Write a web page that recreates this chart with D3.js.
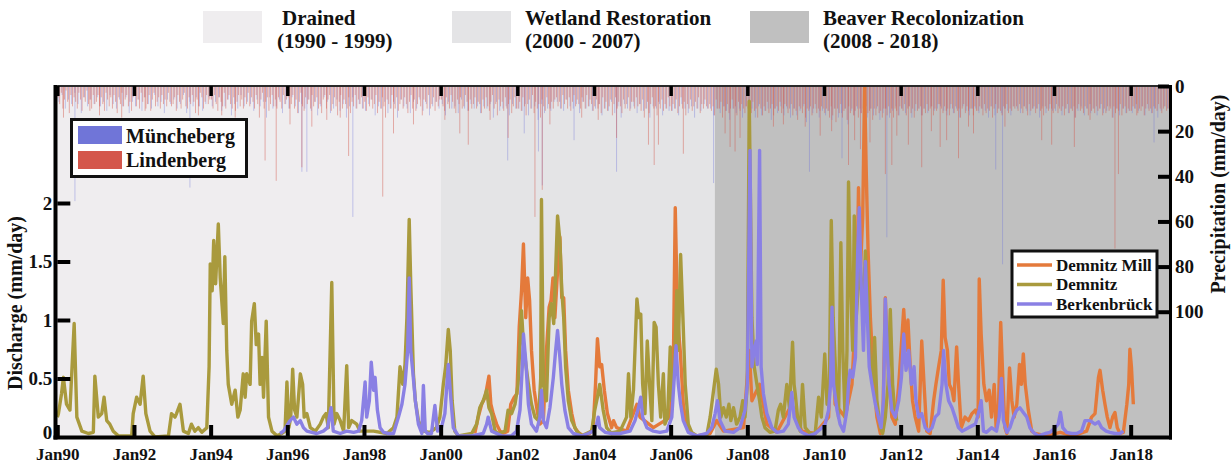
<!DOCTYPE html>
<html>
<head>
<meta charset="utf-8">
<script src="https://cdn.jsdelivr.net/npm/d3@7/dist/d3.min.js"></script>
<style>
  body { margin: 0; background: #fff; }
  svg text { font-family: "Liberation Serif", "Times New Roman", serif; font-weight: bold; fill: #111; }
</style>
</head>
<body>
<div id="chart-area"></div>
<script>

// Phases of the catchment
var phaseNames = ["Drained", "Wetland Restoration", "Beaver Recolonization"];
var phaseYears = ["(1990 - 1999)", "(2000 - 2007)", "(2008 - 2018)"];
var phaseStart = [1990, 2000, 2007.15];
var phaseEnd = [2000, 2007.15, 2019];

// Tick values
var xTickYears = [1990, 1992, 1994, 1996, 1998, 2000, 2002, 2004, 2006, 2008, 2010, 2012, 2014, 2016, 2018];
var dischargeTicks = [0, 0.5, 1, 1.5, 2];
var precipTicks = [0, 20, 40, 60, 80, 100];

// Discharge (mm/day), [decimal year, value]
var demnitz = [[1990.00,0.17],[1990.03,0.20],[1990.11,0.37],[1990.16,0.51],[1990.24,0.28],[1990.33,0.23],[1990.44,0.97],[1990.51,0.17],[1990.64,0.05],[1990.81,0.03],[1990.94,0.04],[1990.98,0.52],[1991.07,0.17],[1991.16,0.20],[1991.22,0.34],[1991.29,0.14],[1991.37,0.11],[1991.46,0.05],[1991.59,0.01],[1991.94,0.01],[1991.98,0.20],[1992.07,0.34],[1992.16,0.28],[1992.24,0.52],[1992.31,0.20],[1992.42,0.05],[1992.55,0.00],[1992.90,0.01],[1992.98,0.20],[1993.07,0.17],[1993.11,0.20],[1993.20,0.28],[1993.29,0.05],[1993.42,0.03],[1993.50,0.11],[1993.59,0.05],[1993.68,0.08],[1993.77,0.04],[1993.90,0.08],[1993.96,0.60],[1993.99,1.48],[1994.04,1.25],[1994.08,1.68],[1994.13,1.31],[1994.20,1.82],[1994.25,1.36],[1994.33,0.97],[1994.37,1.54],[1994.42,0.74],[1994.46,0.45],[1994.55,0.28],[1994.64,0.40],[1994.71,0.17],[1994.77,0.23],[1994.85,0.54],[1994.90,0.34],[1994.94,0.54],[1995.03,0.45],[1995.07,0.99],[1995.14,1.14],[1995.19,0.79],[1995.25,0.88],[1995.29,0.45],[1995.34,0.68],[1995.38,0.34],[1995.45,0.99],[1995.51,0.17],[1995.60,0.05],[1995.73,0.01],[1995.86,0.03],[1995.94,0.05],[1995.99,0.47],[1996.04,0.08],[1996.09,0.17],[1996.14,0.58],[1996.19,0.23],[1996.25,0.17],[1996.34,0.54],[1996.40,0.45],[1996.44,0.17],[1996.51,0.20],[1996.60,0.08],[1996.73,0.05],[1996.86,0.11],[1996.94,0.17],[1997.01,0.20],[1997.07,0.08],[1997.16,1.32],[1997.22,0.11],[1997.29,0.20],[1997.38,0.14],[1997.47,0.05],[1997.55,0.61],[1997.60,0.08],[1997.68,0.14],[1997.81,0.11],[1997.90,0.05],[1998.25,0.05],[1998.60,0.03],[1998.77,0.08],[1998.86,0.17],[1998.94,0.60],[1999.01,0.45],[1999.07,0.62],[1999.12,1.02],[1999.18,1.86],[1999.22,1.31],[1999.29,0.54],[1999.34,0.31],[1999.42,0.14],[1999.55,0.05],[1999.72,0.04],[1999.89,0.08],[1999.98,0.17],[2000.07,0.45],[2000.13,0.60],[2000.20,0.92],[2000.25,0.74],[2000.30,0.31],[2000.37,0.05],[2000.46,0.01],[2000.81,0.03],[2000.94,0.11],[2001.02,0.25],[2001.11,0.31],[2001.20,0.40],[2001.26,0.25],[2001.33,0.20],[2001.42,0.05],[2001.50,0.03],[2001.68,0.05],[2001.76,0.23],[2001.85,0.20],[2001.94,0.28],[2002.02,0.45],[2002.11,1.08],[2002.16,0.79],[2002.20,0.68],[2002.29,0.45],[2002.37,0.28],[2002.46,0.17],[2002.55,0.14],[2002.61,0.50],[2002.63,2.03],[2002.68,0.45],[2002.76,0.31],[2002.83,1.02],[2002.89,1.14],[2002.95,0.97],[2003.00,1.42],[2003.05,1.89],[2003.11,1.68],[2003.16,1.25],[2003.21,1.02],[2003.26,0.60],[2003.33,0.31],[2003.42,0.14],[2003.55,0.05],[2003.68,0.01],[2003.94,0.05],[2004.02,0.23],[2004.09,0.34],[2004.15,0.45],[2004.24,0.23],[2004.33,0.08],[2004.46,0.03],[2004.51,0.04],[2004.68,0.05],[2004.85,0.17],[2004.90,0.54],[2004.96,0.17],[2005.03,0.40],[2005.12,1.18],[2005.17,1.02],[2005.22,1.05],[2005.27,0.45],[2005.33,0.20],[2005.39,0.82],[2005.45,0.45],[2005.51,0.14],[2005.57,0.98],[2005.62,0.94],[2005.68,0.45],[2005.74,0.17],[2005.81,0.54],[2005.85,0.11],[2005.92,0.17],[2005.99,0.77],[2006.03,0.31],[2006.10,0.60],[2006.16,1.25],[2006.20,0.74],[2006.26,1.56],[2006.32,1.02],[2006.38,0.45],[2006.46,0.11],[2006.55,0.04],[2006.68,0.01],[2006.94,0.01],[2007.03,0.17],[2007.12,0.40],[2007.19,0.58],[2007.25,0.45],[2007.31,0.17],[2007.38,0.25],[2007.45,0.17],[2007.52,0.28],[2007.57,0.14],[2007.64,0.25],[2007.72,0.11],[2007.81,0.17],[2007.88,0.31],[2007.94,0.17],[2008.00,0.45],[2008.05,2.87],[2008.12,1.02],[2008.18,0.60],[2008.25,0.45],[2008.32,0.31],[2008.38,0.17],[2008.46,0.08],[2008.59,0.04],[2008.72,0.05],[2008.81,0.23],[2008.87,0.28],[2008.94,0.17],[2009.03,0.45],[2009.10,0.25],[2009.18,0.81],[2009.22,0.45],[2009.25,0.37],[2009.32,0.14],[2009.38,0.05],[2009.44,0.45],[2009.51,0.08],[2009.64,0.03],[2009.77,0.03],[2009.86,0.34],[2009.93,0.17],[2010.02,0.71],[2010.08,0.28],[2010.14,0.45],[2010.19,1.85],[2010.24,1.02],[2010.31,0.51],[2010.38,0.17],[2010.44,1.66],[2010.49,0.74],[2010.55,0.17],[2010.60,0.74],[2010.64,2.18],[2010.69,1.31],[2010.75,0.74],[2010.79,1.89],[2010.84,1.02],[2010.90,1.31],[2010.95,1.45],[2011.02,1.02],[2011.08,1.59],[2011.15,1.17],[2011.21,0.60],[2011.27,0.45],[2011.32,0.85],[2011.38,0.31],[2011.47,0.08],[2011.53,0.03],[2011.60,0.17],[2011.67,0.45],[2011.73,1.09],[2011.79,0.45],[2011.84,0.23],[2011.90,0.14]];

var demnitzMill = [[2000.89,0.03],[2000.98,0.17],[2001.07,0.28],[2001.16,0.34],[2001.26,0.52],[2001.31,0.28],[2001.37,0.20],[2001.46,0.11],[2001.55,0.05],[2001.63,0.03],[2001.75,0.05],[2001.83,0.28],[2001.92,0.34],[2001.99,0.37],[2002.05,0.94],[2002.11,1.25],[2002.16,1.65],[2002.22,1.02],[2002.27,1.36],[2002.32,1.17],[2002.37,0.74],[2002.44,0.40],[2002.53,0.20],[2002.59,0.11],[2002.68,0.14],[2002.76,0.74],[2002.83,1.11],[2002.88,1.17],[2002.93,1.36],[2002.98,1.02],[2003.05,1.42],[2003.11,1.71],[2003.16,1.19],[2003.21,1.19],[2003.26,0.74],[2003.33,0.40],[2003.42,0.20],[2003.50,0.08],[2003.59,0.04],[2003.72,0.01],[2003.89,0.03],[2003.98,0.08],[2004.04,0.45],[2004.09,0.84],[2004.15,0.60],[2004.20,0.62],[2004.27,0.40],[2004.35,0.20],[2004.46,0.08],[2004.51,0.14],[2004.59,0.08],[2004.85,0.05],[2004.99,0.17],[2005.12,0.28],[2005.20,0.17],[2005.55,0.08],[2005.99,0.17],[2006.07,0.60],[2006.12,1.96],[2006.18,1.02],[2006.25,0.74],[2006.33,0.28],[2006.42,0.08],[2006.55,0.03],[2006.68,0.01],[2007.03,0.03],[2007.20,0.14],[2007.38,0.05],[2007.90,0.08],[2008.05,0.74],[2008.12,0.31],[2008.32,0.45],[2008.51,0.11],[2008.77,0.04],[2009.16,0.28],[2009.42,0.05],[2009.77,0.03],[2010.12,0.17],[2010.21,1.02],[2010.29,0.28],[2010.55,0.17],[2010.73,0.45],[2010.86,1.31],[2010.90,2.13],[2010.95,1.42],[2011.01,1.88],[2011.06,2.99],[2011.10,2.30],[2011.15,1.59],[2011.21,1.02],[2011.29,0.51],[2011.38,0.17],[2011.47,0.03],[2011.53,0.05],[2011.60,1.19],[2011.65,0.74],[2011.77,0.17],[2011.86,0.11],[2011.95,0.45],[2012.02,0.79],[2012.08,1.09],[2012.14,0.74],[2012.19,1.00],[2012.25,0.60],[2012.31,0.31],[2012.38,0.17],[2012.47,0.05],[2012.55,0.82],[2012.61,0.45],[2012.68,0.05],[2012.77,0.03],[2012.86,0.31],[2012.92,0.45],[2012.99,0.60],[2013.06,0.74],[2013.11,1.34],[2013.16,0.85],[2013.22,0.74],[2013.27,0.45],[2013.34,0.40],[2013.39,0.31],[2013.46,0.77],[2013.51,0.45],[2013.58,0.08],[2013.68,0.17],[2013.77,0.14],[2013.86,0.20],[2013.95,0.23],[2014.02,0.17],[2014.05,1.35],[2014.10,0.88],[2014.17,0.45],[2014.24,0.31],[2014.31,0.40],[2014.37,0.17],[2014.44,0.45],[2014.49,0.08],[2014.55,0.23],[2014.61,0.98],[2014.66,0.54],[2014.72,0.08],[2014.77,0.03],[2014.84,0.59],[2014.90,0.31],[2014.96,0.17],[2015.03,0.28],[2015.10,0.62],[2015.15,0.45],[2015.20,0.71],[2015.25,0.45],[2015.33,0.23],[2015.42,0.05],[2015.50,0.03],[2015.81,0.01],[2016.16,0.04],[2016.50,0.01],[2016.85,0.05],[2016.98,0.17],[2017.07,0.20],[2017.16,0.51],[2017.20,0.57],[2017.27,0.40],[2017.33,0.28],[2017.39,0.17],[2017.46,0.08],[2017.53,0.17],[2017.59,0.21],[2017.65,0.08],[2017.72,0.03],[2017.81,0.04],[2017.90,0.28],[2017.95,0.45],[2017.98,0.75],[2018.02,0.60],[2018.07,0.28]];

var berkenbrueck = [[1995.81,0.03],[1995.90,0.05],[1996.07,0.14],[1996.16,0.17],[1996.25,0.11],[1996.34,0.14],[1996.42,0.08],[1996.51,0.05],[1996.64,0.04],[1996.77,0.03],[1996.94,0.05],[1997.05,0.08],[1997.14,0.25],[1997.20,0.05],[1997.38,0.03],[1997.55,0.05],[1997.73,0.04],[1997.86,0.05],[1997.94,0.14],[1998.03,0.47],[1998.07,0.17],[1998.14,0.31],[1998.19,0.64],[1998.25,0.40],[1998.29,0.51],[1998.35,0.23],[1998.42,0.08],[1998.51,0.04],[1998.64,0.03],[1998.77,0.03],[1998.90,0.17],[1998.99,0.28],[1999.07,0.45],[1999.14,0.74],[1999.18,1.36],[1999.22,0.74],[1999.27,0.57],[1999.34,0.31],[1999.42,0.11],[1999.51,0.03],[1999.55,0.44],[1999.60,0.05],[1999.66,0.03],[1999.76,0.03],[1999.85,0.27],[1999.92,0.05],[2000.02,0.08],[2000.11,0.20],[2000.20,0.62],[2000.27,0.31],[2000.33,0.08],[2000.46,0.01],[2000.81,0.01],[2001.11,0.03],[2001.20,0.11],[2001.24,0.17],[2001.33,0.05],[2001.59,0.01],[2001.85,0.01],[2001.98,0.05],[2002.07,0.23],[2002.13,0.60],[2002.16,0.88],[2002.22,0.65],[2002.29,0.28],[2002.37,0.11],[2002.50,0.05],[2002.59,0.17],[2002.63,0.40],[2002.68,0.14],[2002.76,0.08],[2002.85,0.25],[2002.94,0.51],[2003.00,0.74],[2003.05,0.91],[2003.11,0.68],[2003.16,0.45],[2003.24,0.23],[2003.33,0.08],[2003.46,0.03],[2003.68,0.01],[2003.85,0.03],[2003.98,0.05],[2004.07,0.11],[2004.11,0.17],[2004.15,0.08],[2004.29,0.04],[2004.46,0.03],[2004.68,0.03],[2004.94,0.05],[2005.07,0.14],[2005.16,0.25],[2005.22,0.34],[2005.27,0.17],[2005.38,0.08],[2005.55,0.05],[2005.72,0.04],[2005.90,0.05],[2006.03,0.17],[2006.10,0.54],[2006.14,0.78],[2006.20,0.45],[2006.26,0.28],[2006.33,0.14],[2006.46,0.04],[2006.68,0.01],[2006.94,0.03],[2007.07,0.08],[2007.16,0.20],[2007.22,0.31],[2007.29,0.14],[2007.42,0.05],[2007.64,0.04],[2007.81,0.08],[2007.94,0.23],[2008.00,0.45],[2008.07,2.45],[2008.12,0.60],[2008.18,0.74],[2008.23,0.82],[2008.26,0.62],[2008.32,2.45],[2008.36,0.60],[2008.42,0.37],[2008.51,0.20],[2008.64,0.08],[2008.77,0.04],[2008.94,0.05],[2009.07,0.11],[2009.16,0.38],[2009.22,0.17],[2009.33,0.08],[2009.42,0.04],[2009.60,0.01],[2009.77,0.03],[2009.95,0.08],[2010.03,0.11],[2010.12,0.23],[2010.17,0.45],[2010.21,1.11],[2010.25,0.45],[2010.34,0.23],[2010.42,0.11],[2010.51,0.05],[2010.60,0.23],[2010.64,0.45],[2010.68,0.57],[2010.75,0.51],[2010.82,0.68],[2010.88,1.59],[2010.92,1.96],[2010.97,1.31],[2011.03,0.74],[2011.08,1.50],[2011.13,1.02],[2011.18,0.60],[2011.25,0.45],[2011.34,0.28],[2011.42,0.17],[2011.49,0.08],[2011.55,0.31],[2011.60,1.18],[2011.65,0.74],[2011.70,0.45],[2011.77,0.23],[2011.86,0.17],[2011.95,0.31],[2012.02,0.51],[2012.08,0.88],[2012.14,0.57],[2012.21,0.74],[2012.28,0.45],[2012.35,0.60],[2012.40,0.31],[2012.47,0.17],[2012.55,0.20],[2012.64,0.08],[2012.73,0.05],[2012.82,0.08],[2012.90,0.17],[2012.99,0.20],[2013.08,0.45],[2013.12,0.74],[2013.18,0.45],[2013.25,0.31],[2013.34,0.25],[2013.42,0.17],[2013.51,0.08],[2013.60,0.05],[2013.77,0.08],[2013.95,0.11],[2014.05,0.23],[2014.10,0.31],[2014.16,0.05],[2014.24,0.04],[2014.37,0.08],[2014.50,0.05],[2014.57,0.17],[2014.63,0.50],[2014.68,0.14],[2014.77,0.04],[2014.85,0.08],[2014.94,0.17],[2015.03,0.23],[2015.11,0.25],[2015.20,0.21],[2015.29,0.17],[2015.37,0.08],[2015.46,0.04],[2015.59,0.01],[2015.77,0.03],[2015.90,0.04],[2016.03,0.08],[2016.11,0.11],[2016.17,0.21],[2016.23,0.08],[2016.33,0.04],[2016.46,0.03],[2016.59,0.03],[2016.72,0.05],[2016.81,0.14],[2016.94,0.14],[2017.07,0.11],[2017.16,0.13],[2017.24,0.08],[2017.36,0.05],[2017.46,0.04],[2017.59,0.03],[2017.72,0.03],[2017.81,0.05]];

// Precipitation (mm/day): one row per year, 1990..2018, semi-monthly samples
var lindenbergRows = [
  [5,8,3,10,6,2,7,12,4,9,5,7,10,3,6,11,5,7,2,8,6,10,4,8],
  [7,4,9,5,8,11,3,6,9,5,10,4,7,12,5,8,3,9,6,4,9,7,11,5],
  [4,9,6,10,3,7,5,10,8,4,11,6,3,9,7,5,10,4,8,6,9,3,7,9],
  [8,5,11,4,7,10,6,3,9,10,5,8,4,7,12,6,9,3,5,10,7,4,8,6],
  [6,10,4,8,11,5,7,9,3,10,6,4,8,10,5,11,7,4,9,6,10,5,8,3],
  [9,5,7,10,4,8,14,6,3,10,7,5,11,8,4,9,6,10,5,7,10,4,8,6],
  [5,10,8,4,10,6,12,7,3,9,11,5,8,6,10,4,9,7,5,10,8,12,6,4],
  [10,6,4,11,8,5,9,13,7,4,10,6,8,10,5,12,7,9,4,10,6,8,5,10],
  [7,11,5,9,6,10,8,4,12,7,10,5,9,14,6,8,10,4,7,10,5,11,8,6],
  [10,5,8,12,7,4,10,6,11,8,5,9,13,6,7,10,4,10,8,5,11,7,9,6],
  [6,9,11,5,8,10,4,7,10,12,6,8,5,10,9,4,7,11,6,10,8,5,10,7],
  [8,12,6,10,5,9,11,7,4,10,8,13,6,9,7,11,5,10,8,6,12,9,5,10],
  [10,7,11,5,9,13,8,6,10,4,12,7,10,8,14,6,9,11,5,8,10,7,10,6],
  [5,9,7,10,4,8,6,10,5,11,7,4,9,6,8,10,5,7,10,4,9,6,8,11],
  [9,6,10,8,12,5,10,7,11,9,6,13,8,5,10,7,9,12,6,10,8,5,11,7],
  [7,10,5,9,8,11,6,14,10,7,12,8,5,10,9,13,7,10,6,11,8,10,5,9],
  [11,8,10,6,12,9,5,10,7,13,8,10,6,11,9,7,10,5,12,8,10,6,9,10],
  [8,11,9,13,6,10,10,7,14,9,11,8,12,10,6,10,9,13,7,11,8,10,12,9],
  [10,9,12,7,11,10,14,8,10,13,9,11,7,12,10,8,13,10,9,11,7,12,10,8],
  [9,12,10,8,13,10,11,15,9,10,12,8,14,10,11,9,13,10,8,12,10,11,9,10],
  [12,10,11,14,9,13,10,16,10,12,8,14,11,10,15,9,12,10,13,11,9,14,10,12],
  [10,13,9,12,11,10,15,10,13,9,12,11,14,10,10,13,9,12,10,14,10,11,13,9],
  [10,11,8,13,10,9,12,10,14,8,11,10,9,13,10,12,8,11,10,9,13,10,11,8],
  [8,10,12,9,11,10,13,8,10,12,9,11,10,14,10,8,12,9,11,10,10,13,9,11],
  [11,9,10,13,8,12,10,11,9,14,10,8,12,10,11,13,9,10,8,12,10,11,9,10],
  [9,11,8,10,12,9,10,13,8,11,10,9,12,10,8,11,10,13,9,10,11,8,10,12],
  [10,8,12,10,11,9,13,10,8,12,10,11,9,14,10,8,11,10,12,9,10,13,8,11],
  [10,12,9,11,10,8,13,10,12,9,11,10,14,9,12,10,11,8,13,10,9,12,10,11],
  [11,9,10,8,12,10,11,9,13,10,8,11,10,12,9,10,11,8,10,12,10,9,11,10]
];

var munchebergRows = [
  [7,4,10,6,8,3,8,12,5,9,6,8],
  [5,9,7,11,4,8,10,6,9,5,12,7],
  [9,6,11,5,8,10,4,9,7,12,6,8],
  [6,10,8,4,12,7,9,5,9,11,8,5],
  [9,7,5,11,9,6,13,8,10,4,9,7],
  [8,11,6,9,7,14,5,10,9,6,12,8],
  [10,5,9,12,8,10,6,11,7,13,9,5],
  [7,12,10,6,11,8,14,9,5,10,8,10],
  [11,8,6,13,9,10,7,12,10,8,14,6],
  [9,10,12,7,10,6,11,8,13,9,7,10],
  [8,13,7,10,9,12,6,10,11,8,10,9],
  [12,9,10,8,14,7,11,10,9,13,8,10],
  [10,11,8,13,10,9,15,8,12,10,11,7],
  [7,10,11,6,9,10,8,12,7,10,9,11],
  [10,8,13,10,11,7,12,9,14,8,10,10],
  [9,12,8,11,10,14,9,10,8,13,10,11],
  [11,10,13,8,10,12,9,14,10,11,8,10],
  [10,13,10,12,9,11,15,10,12,10,14,9],
  [12,10,14,9,13,11,10,15,10,12,9,13],
  [10,14,10,13,11,9,16,10,12,10,14,11],
  [13,11,15,10,14,12,10,17,11,13,10,12],
  [11,14,10,13,10,15,12,10,14,11,9,13],
  [10,12,9,14,11,10,13,10,12,9,11,10],
  [9,11,13,10,12,10,14,9,11,13,10,10],
  [12,10,11,14,9,13,10,12,10,11,13,9],
  [10,12,9,11,13,10,10,14,9,12,10,11],
  [11,9,13,10,12,10,14,11,9,13,10,12],
  [10,13,10,12,11,9,14,10,13,10,12,11],
  [12,10,11,9,13,10,12,10,14,11,9,10]
];

// Heavy rain days, [decimal year, mm/day]
var lindenbergPeaks = [[1990.16,14],[1990.85,11],[1991.10,13],[1991.68,14],[1992.29,11],[1993.68,13],[1994.29,13],[1994.64,14],[1995.42,33],[1995.71,42],[1996.07,17],[1996.38,36],[1996.64,18],[1997.03,15],[1997.38,14],[1997.60,31],[1998.49,49],[1998.77,21],[1999.29,17],[2000.11,15],[2000.50,21],[2000.72,26],[2001.29,15],[2001.76,23],[2002.46,58],[2002.65,46],[2002.85,17],[2003.68,14],[2004.11,15],[2004.59,23],[2005.42,26],[2005.57,35],[2005.68,26],[2006.33,30],[2007.42,21],[2007.55,27],[2007.68,29],[2007.81,23],[2008.68,18],[2008.94,17],[2009.51,18],[2009.90,22],[2010.20,20],[2010.64,35],[2010.80,24],[2010.95,28],[2011.20,25],[2011.60,39],[2011.77,35],[2011.90,22],[2012.20,26],[2012.55,36],[2012.80,20],[2013.03,27],[2013.20,24],[2013.51,32],[2013.77,18],[2013.90,21],[2014.72,18],[2015.68,24],[2015.94,26],[2016.53,27],[2016.94,15],[2017.59,72],[2017.68,39],[2018.16,13]];
var munchebergPeaks = [[1990.46,51],[1993.46,45],[1996.38,38],[1996.51,38],[1997.71,58],[2001.75,33],[2002.18,21],[2002.55,29],[2002.65,44],[2003.48,24],[2004.59,38],[2007.12,43],[2009.62,38],[2010.47,32],[2011.64,67],[2014.48,37],[2014.66,79],[2018.61,25]];

// Styles
var phaseColors = ["#efedef", "#e4e4e6", "#c0c0c0"];
var colMill = "#e47a3b", colDemnitz = "#a99a3d", colBerk = "#8a80e4";
var colMunch = "#7075d8", colLinden = "#d4574b";

var width = 1231, height = 467;
var plot = { left: 57.3, right: 1169, top: 86, bottom: 437 };

var svg = d3.select("#chart-area").append("svg")
    .attr("width", width)
    .attr("height", height);

// Scales
var x = d3.scaleLinear().domain([1990, 2019]).range([plot.left, plot.right]);
var yQ = d3.scaleLinear().domain([0, 3]).range([plot.bottom, plot.top]);
var yP = d3.scaleLinear().domain([0, 155.5]).range([plot.top, plot.bottom]);

// Phase backgrounds
svg.append("g").selectAll("rect")
    .data(phaseStart)
    .enter().append("rect")
    .attr("x", function(d){ return x(d); })
    .attr("y", plot.top)
    .attr("width", function(d, i){ return x(phaseEnd[i]) - x(d); })
    .attr("height", plot.bottom - plot.top)
    .attr("fill", function(d, i){ return phaseColors[i]; });

// Build precipitation series
function rowsToSeries(rows, peaks) {
    var out = [];
    rows.forEach(function(row, i){
        row.forEach(function(v, j){
            out.push([1990 + i + (j + 0.5) / row.length, v]);
        });
    });
    return out.concat(peaks);
}
var munchSeries = rowsToSeries(munchebergRows, munchebergPeaks);
var lindenSeries = rowsToSeries(lindenbergRows, lindenbergPeaks);

function drawBars(series, color, op) {
    svg.append("g").selectAll("rect")
        .data(series)
        .enter().append("rect")
        .attr("x", function(d){ return x(d[0]) - 0.45; })
        .attr("y", plot.top)
        .attr("width", 0.9)
        .attr("height", function(d){ return yP(d[1]) - plot.top; })
        .attr("fill", color)
        .attr("opacity", op);
}
drawBars(munchSeries, colMunch, 0.42);
drawBars(lindenSeries, colLinden, 0.5);

// Discharge lines
var line = d3.line()
    .x(function(d){ return x(d[0]); })
    .y(function(d){ return yQ(d[1]); });

[[demnitzMill, colMill], [demnitz, colDemnitz], [berkenbrueck, colBerk]].forEach(function(s){
    svg.append("path")
        .attr("d", line(s[0]))
        .attr("fill", "none")
        .attr("stroke", s[1])
        .attr("stroke-width", 3.4)
        .attr("stroke-linejoin", "round");
});

// Frame
svg.append("line").attr("x1", plot.left).attr("x2", plot.right).attr("y1", plot.top).attr("y2", plot.top)
    .attr("stroke", "#2a2a2a").attr("stroke-width", 2);
svg.append("line").attr("x1", 55.5).attr("x2", 55.5).attr("y1", plot.top - 1).attr("y2", 439.5)
    .attr("stroke", "#000").attr("stroke-width", 4);
svg.append("line").attr("x1", 53.5).attr("x2", 1172).attr("y1", 437.5).attr("y2", 437.5)
    .attr("stroke", "#000").attr("stroke-width", 4);
svg.append("line").attr("x1", 1170.5).attr("x2", 1170.5).attr("y1", plot.top - 1).attr("y2", 439.5)
    .attr("stroke", "#000").attr("stroke-width", 3);

// Axes
var xAxis = svg.append("g")
    .attr("transform", "translate(0," + plot.bottom + ")")
    .call(d3.axisBottom(x).tickValues(xTickYears)
        .tickFormat(function(d){ return "Jan" + String(d).slice(2); })
        .tickSizeInner(-12).tickSizeOuter(0).tickPadding(11));

var xTop = svg.append("g")
    .attr("transform", "translate(0," + plot.top + ")")
    .call(d3.axisTop(x).tickValues(xTickYears).tickFormat("")
        .tickSizeInner(-10).tickSizeOuter(0));

var yAxis = svg.append("g")
    .attr("transform", "translate(" + plot.left + ",0)")
    .call(d3.axisLeft(yQ).tickValues(dischargeTicks)
        .tickFormat(function(d){ return d; })
        .tickSizeInner(-13).tickSizeOuter(0).tickPadding(5));

var yRight = svg.append("g")
    .attr("transform", "translate(" + plot.right + ",0)")
    .call(d3.axisRight(yP).tickValues(precipTicks)
        .tickSizeInner(-11).tickSizeOuter(0).tickPadding(6));

[xAxis, xTop, yAxis, yRight].forEach(function(a){
    a.select(".domain").remove();
    a.selectAll(".tick line").attr("stroke", "#000").attr("stroke-width", 4);
    a.selectAll(".tick text").attr("fill", "#111").attr("font-family", null);
});
xAxis.selectAll(".tick text").attr("font-size", "17px");
yAxis.selectAll(".tick text").attr("font-size", "19px");
yRight.selectAll(".tick text").attr("font-size", "19px");
xTop.selectAll(".tick line").attr("stroke-width", 3.5);
// zero tick sits on the x axis: drop its line and lift its label a little
yAxis.select(".tick line").remove();
yAxis.select(".tick text").attr("dy", "0.1em");

// Axis labels
svg.append("text")
    .attr("transform", "translate(22,303) rotate(-90)")
    .attr("text-anchor", "middle")
    .attr("font-size", "20px")
    .text("Discharge (mm/day)");

svg.append("text")
    .attr("transform", "translate(1225,194) rotate(-90)")
    .attr("text-anchor", "middle")
    .attr("font-size", "20px")
    .text("Precipitation (mm/day)");

// Phase legend (top)
var phasePatchX = [203, 452, 750];
var phaseLeg = svg.append("g");
phaseNames.forEach(function(name, i){
    phaseLeg.append("rect")
        .attr("x", phasePatchX[i]).attr("y", 11)
        .attr("width", 59).attr("height", 32)
        .attr("fill", phaseColors[i]);
    phaseLeg.append("text")
        .attr("x", phasePatchX[i] + (i === 0 ? 79 : 73)).attr("y", 25)
        .attr("font-size", "21px")
        .text(name);
    phaseLeg.append("text")
        .attr("x", phasePatchX[i] + (i === 0 ? 74 : 73)).attr("y", 48)
        .attr("font-size", "21px")
        .text(phaseYears[i]);
});

// Precipitation legend
var pLeg = svg.append("g");
pLeg.append("rect").attr("x", 71.5).attr("y", 119.5).attr("width", 175).attr("height", 57)
    .attr("fill", "#fff").attr("stroke", "#111").attr("stroke-width", 3);
[["Müncheberg", colMunch], ["Lindenberg", colLinden]].forEach(function(d, i){
    pLeg.append("rect").attr("x", 78).attr("y", 126 + i * 25).attr("width", 44).attr("height", 18)
        .attr("fill", d[1]);
    pLeg.append("text").attr("x", 126).attr("y", 143 + i * 24)
        .attr("font-size", "20px").text(d[0]);
});

// Discharge legend
var qLeg = svg.append("g");
qLeg.append("rect").attr("x", 1012).attr("y", 251).attr("width", 145).attr("height", 66)
    .attr("fill", "#fff").attr("stroke", "#111").attr("stroke-width", 3);
[["Demnitz Mill", colMill], ["Demnitz", colDemnitz], ["Berkenbrück", colBerk]].forEach(function(d, i){
    qLeg.append("line").attr("x1", 1017).attr("x2", 1052)
        .attr("y1", 265 + i * 19.5).attr("y2", 265 + i * 19.5)
        .attr("stroke", d[1]).attr("stroke-width", 3.5);
    qLeg.append("text").attr("x", 1056).attr("y", 270.5 + i * 19.5)
        .attr("font-size", "17px").text(d[0]);
});

</script>
</body>
</html>
